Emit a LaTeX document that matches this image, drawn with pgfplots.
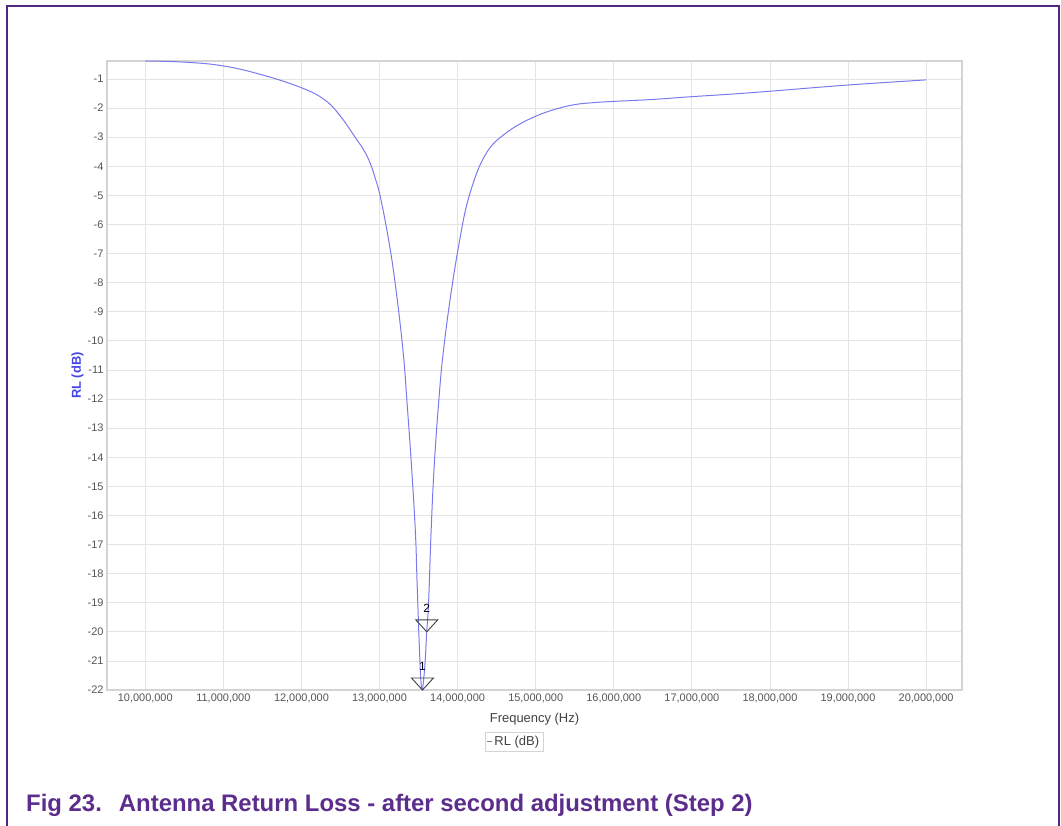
\documentclass[border=0pt]{standalone}
\usepackage{fontspec}
\setmainfont{Liberation Sans}
\usepackage{pgfplots}
\pgfplotsset{compat=1.18}

\definecolor{curveblue}{RGB}{122,122,238}
\definecolor{labelblue}{RGB}{70,70,230}
\definecolor{nxppurple}{RGB}{92,45,140}
\definecolor{framepurple}{RGB}{80,40,125}
\definecolor{gridgray}{RGB}{228,228,228}
\definecolor{boxgray}{RGB}{212,212,212}
\definecolor{ticktext}{RGB}{85,85,85}

% marker: downward triangle with its tip on the data point
\pgfdeclareplotmark{dtri}{%
  \pgfpathmoveto{\pgfpointorigin}%
  \pgfpathlineto{\pgfpoint{-11bp}{12bp}}%
  \pgfpathlineto{\pgfpoint{11bp}{12bp}}%
  \pgfpathclose
  \pgfusepathqstroke}

% falling branch, up to the minimum
\pgfplotstableread{
f      rl
10.00 -0.38
10.50 -0.42
11.00 -0.55
11.50 -0.86
12.00 -1.30
12.30 -1.72
12.50 -2.28
12.70 -3.05
12.80 -3.45
12.88 -3.89
12.95 -4.45
13.01 -5.05
13.11 -6.43
13.20 -8.01
13.30 -10.31
13.35 -12.03
13.41 -14.32
13.46 -16.60
13.48 -18.20
13.51 -20.50
13.53 -21.70
13.55 -22.00
}\rlleft

% rising branch, from the minimum
\pgfplotstableread{
f      rl
13.55 -22.00
13.58 -21.20
13.605 -20.00
13.63 -18.90
13.66 -16.60
13.70 -14.32
13.76 -12.03
13.82 -10.31
13.93 -8.10
14.05 -6.19
14.12 -5.30
14.20 -4.58
14.28 -4.00
14.37 -3.54
14.45 -3.25
14.55 -3.00
14.75 -2.62
15.00 -2.28
15.25 -2.04
15.50 -1.88
15.75 -1.81
16.00 -1.77
16.51 -1.70
16.98 -1.61
17.50 -1.52
18.00 -1.42
18.98 -1.21
20.00 -1.03
}\rlright

\begin{document}
\begin{tikzpicture}[x=1bp,y=1bp]
\useasboundingbox (0,0) rectangle (1061,826);
\draw[framepurple, line width=1.5bp] (7,0) -- (7,820) -- (1059,820) -- (1059,0);

\begin{axis}[
    at={(107bp,136bp)}, anchor=south west,
    scale only axis, width=855bp, height=629bp,
    xmin=9.51, xmax=20.46, ymin=-22, ymax=-0.38,
    clip=false,
    xtick={10,11,...,20},
    xticklabels={{10,000,000},{11,000,000},{12,000,000},{13,000,000},{14,000,000},{15,000,000},{16,000,000},{17,000,000},{18,000,000},{19,000,000},{20,000,000}},
    ytick={-22,-21,...,-1},
    yticklabels={-22,-21,-20,-19,-18,-17,-16,-15,-14,-13,-12,-11,-10,-9,-8,-7,-6,-5,-4,-3,-2,-1},
    tick label style={font=\fontsize{11}{13}\selectfont, text=ticktext},
    major tick length=0pt,
    grid=major,
    major grid style={gridgray, line width=0.8bp},
    axis line style={boxgray, line width=2.5bp},
    xlabel={Frequency (Hz)},
    xlabel style={at={([yshift=-29bp]axis description cs:0.5,0)}, anchor=center,
        font=\fontsize{13}{15}\selectfont, text=black!75},
    ylabel={\textbf{RL (dB)}},
    ylabel style={at={([xshift=-20bp]axis description cs:0,0.5)}, anchor=south, rotate=0,
        font=\fontsize{13}{15}\selectfont, text=labelblue},
    legend style={at={(0.476,-0.0668)}, anchor=north, draw=boxgray, fill=white,
        font=\fontsize{13}{15}\selectfont, text=black!75, inner sep=2bp,
        legend cell align=left},
]
\addplot[curveblue, line width=1bp, smooth, tension=0.7,
    legend image code/.code={\draw[gray, line width=0.6bp] (0bp,0bp) -- (5bp,0bp);}]
    table[x=f, y=rl] {\rlleft};
\addlegendentry{RL (dB)}
\addplot[curveblue, line width=1bp, smooth, tension=0.7, forget plot]
    table[x=f, y=rl] {\rlright};

\addplot[only marks, mark=dtri, mark options={draw=black!75, line width=0.9bp},
    point meta=explicit symbolic, nodes near coords,
    nodes near coords style={anchor=south, inner sep=0pt, yshift=19bp,
        font=\fontsize{12}{14}\selectfont, text=black},
    forget plot]
    coordinates {(13.55,-22) [1] (13.605,-20) [2]};
\end{axis}

\node[anchor=base west, inner sep=0pt, text=nxppurple,
      font=\fontsize{24}{28}\selectfont\bfseries] at (26,14.3)
      {Fig 23.\hspace{17bp}Antenna Return Loss - after second adjustment (Step 2)};
\end{tikzpicture}
\end{document}
